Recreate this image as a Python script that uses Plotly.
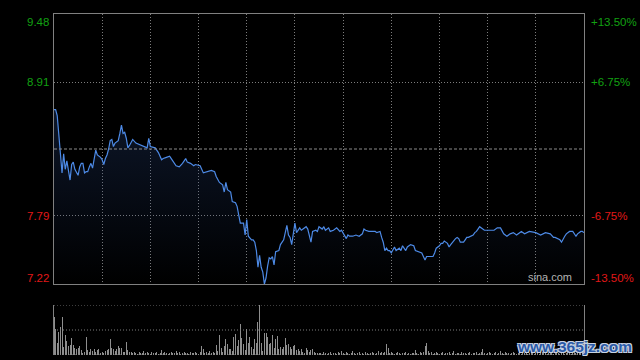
import plotly.graph_objects as go

# ---- data ----
prev_close = 8.35
price_min, price_max = 7.22, 9.48

minutes = [0, 1, 2, 3, 4, 5, 6, 7, 8, 9, 10, 11, 12, 13, 14, 15, 16, 17, 18, 19,
           20, 21, 22, 23, 24, 25, 26, 27, 28, 29, 30, 31, 32, 33, 34, 35, 36, 37, 38, 39,
           40, 41, 42, 43, 44, 45, 46, 47, 49, 51, 53, 55, 58, 59, 60, 63, 65, 67, 68, 70,
           72, 73, 76, 78, 80, 82, 83, 85, 87, 88, 91, 93, 95, 98, 100, 101, 103, 105, 106, 107,
           108, 110, 111, 113, 114, 115, 116, 118, 119, 120, 121, 123, 124, 125, 126, 127, 128, 129, 130, 131,
           132, 133, 134, 135, 136, 137, 138, 140, 141, 143, 144, 145, 146, 147, 148, 149, 150, 151, 153, 154,
           156, 157, 158, 159, 160, 161, 163, 164, 165, 167, 168, 169, 171, 172, 174, 176, 178, 179, 181, 182,
           183, 184, 186, 188, 190, 192, 193, 194, 196, 198, 200, 201, 203, 204, 205, 206, 207, 208, 209, 210,
           211, 212, 213, 214, 215, 216, 217, 219, 220, 222, 224, 225, 227, 228, 229, 230, 231, 232, 234, 236,
           237, 238, 240, 241, 242, 243, 245, 246, 247, 248, 250, 251, 252, 253, 255, 256, 257, 258, 260, 261,
           262, 263, 264, 265, 268, 271, 274, 276, 278, 280, 282, 284, 286, 288, 291, 293, 296, 300, 303, 306,
           309, 311, 312, 315, 316, 318, 319, 321, 323, 325, 326, 328, 329, 330]

prices = [8.68, 8.68, 8.63, 8.45, 8.26, 8.15, 8.31, 8.18, 8.25, 8.17, 8.09, 8.22, 8.24, 8.18, 8.15, 8.13, 8.20, 8.23, 8.23, 8.15,
          8.16, 8.16, 8.20, 8.23, 8.19, 8.27, 8.34, 8.30, 8.29, 8.28, 8.26, 8.22, 8.27, 8.30, 8.35, 8.42, 8.43, 8.37, 8.40, 8.41,
          8.42, 8.48, 8.55, 8.48, 8.49, 8.44, 8.36, 8.38, 8.43, 8.40, 8.39, 8.38, 8.36, 8.44, 8.37, 8.36, 8.32, 8.26, 8.27, 8.28,
          8.29, 8.27, 8.21, 8.20, 8.23, 8.27, 8.24, 8.23, 8.21, 8.22, 8.21, 8.15, 8.16, 8.17, 8.16, 8.12, 8.07, 8.05, 7.99, 8.07,
          8.01, 7.99, 7.91, 7.90, 7.87, 7.79, 7.73, 7.73, 7.63, 7.76, 7.62, 7.59, 7.59, 7.57, 7.50, 7.36, 7.46, 7.36, 7.32, 7.22,
          7.27, 7.37, 7.44, 7.43, 7.45, 7.38, 7.49, 7.50, 7.55, 7.59, 7.65, 7.71, 7.63, 7.61, 7.55, 7.65, 7.73, 7.65, 7.69, 7.67,
          7.69, 7.70, 7.68, 7.62, 7.57, 7.66, 7.67, 7.66, 7.70, 7.68, 7.70, 7.67, 7.69, 7.66, 7.67, 7.69, 7.66, 7.67, 7.62, 7.60,
          7.63, 7.62, 7.62, 7.63, 7.62, 7.64, 7.68, 7.67, 7.66, 7.66, 7.66, 7.65, 7.66, 7.61, 7.57, 7.50, 7.52, 7.50, 7.50, 7.48,
          7.50, 7.53, 7.50, 7.51, 7.52, 7.50, 7.54, 7.50, 7.53, 7.55, 7.54, 7.50, 7.49, 7.49, 7.48, 7.45, 7.42, 7.45, 7.45, 7.45,
          7.48, 7.52, 7.54, 7.56, 7.56, 7.58, 7.56, 7.53, 7.55, 7.57, 7.60, 7.61, 7.60, 7.57, 7.57, 7.59, 7.61, 7.61, 7.62, 7.63,
          7.65, 7.66, 7.68, 7.70, 7.67, 7.67, 7.67, 7.69, 7.69, 7.64, 7.62, 7.64, 7.65, 7.63, 7.66, 7.64, 7.66, 7.65, 7.63, 7.65,
          7.64, 7.61, 7.61, 7.59, 7.57, 7.62, 7.64, 7.66, 7.66, 7.62, 7.64, 7.66, 7.66, 7.65]

volumes = [38, 26, 12, 23, 28, 38, 8, 20, 14, 9,
           10, 17, 10, 7, 6, 7, 9, 5, 2, 3,
           18, 5, 3, 6, 4, 6, 3, 5, 6, 2,
           3, 2, 4, 5, 6, 16, 7, 6, 4, 6,
           9, 7, 7, 3, 3, 13, 5, 3, 3,
           2, 3, 2, 1, 3, 2, 2, 4, 2, 3,
           2, 1, 3, 2, 2, 3, 1, 2, 5, 2,
           3, 2, 1, 2, 3, 2, 2, 4, 2, 3,
           1, 2, 3, 2, 2, 1, 3, 2, 2, 3,
           2, 1, 3,
           9, 6, 2, 3, 2, 4, 2, 3, 2, 10,
           4, 20, 7, 3, 9, 16, 11, 6, 6, 4,
           18, 21, 9, 15, 31, 17, 11, 5, 26, 12,
           18, 8, 6, 16, 12, 33, 50, 12, 4, 22,
           22, 18, 11, 12, 20, 7, 16, 19, 6, 8,
           6, 8, 17, 10, 11, 8, 6, 9, 10, 5,
           6, 4, 6, 3, 2, 7, 5, 3, 5, 6,
           3, 2, 2, 2,
           2, 1, 3, 2, 1, 2, 3, 1, 2, 2,
           1, 3, 2, 4, 2, 1, 3, 2, 1, 2,
           4, 2, 1, 2, 3, 1, 2, 1, 3, 2,
           1, 2, 3, 2, 1, 2, 4, 2, 3, 2,
           3, 11, 7, 2, 3, 2, 1, 2, 3, 2,
           1, 2, 2, 3, 1, 2, 1, 2, 2, 5,
           2, 1, 3, 2, 3, 9, 12, 4, 2, 3,
           1, 2, 3, 2, 1, 2, 3, 1, 2, 2,
           3, 1, 2, 4, 1, 2, 2, 1, 3, 2,
           2, 1, 2, 3, 1, 2, 2, 3, 1, 2,
           3, 6, 2, 1, 2, 3, 2, 1, 2, 3,
           1, 2, 4, 2, 1, 3, 2, 2, 1, 2,
           3, 2, 1, 2, 3, 1, 2, 2, 3, 1,
           2, 3, 2, 1, 2, 3, 1, 2, 3, 2,
           2, 1, 2, 3, 2, 1, 3, 2, 2, 1,
           3, 2, 1, 2, 3, 2, 1, 2, 4, 2,
           3, 2, 2, 3, 4]
volume_minutes = list(range(len(volumes)))

grid_minutes = [30, 60, 90, 120, 150, 180, 210, 240, 270, 300]
grid_prices = [8.91, 7.79]
label_prices = [9.48, 8.91, 7.79, 7.22]
price_labels = ["9.48", "8.91", "7.79", "7.22"]
pct_labels = ["+13.50%", "+6.75%", "-6.75%", "-13.50%"]
label_colors = ["#12a012", "#12a012", "#e01818", "#e01818"]
label_anchor = ["top", "middle", "middle", "bottom"]

# ---- geometry ----
W, H = 640, 360
x0p, x1p = 54 / W, 584 / W
main_dom = [76 / H, 346 / H]
vol_dom = [5 / H, 55 / H]
grid_col = "#7c7c7c"
frame_col = "#808080"
dot = "1px,2px"

fig = go.Figure()
fig.add_trace(go.Scatter(
    x=minutes, y=prices, mode="lines",
    line=dict(color="#4d8ae6", width=1.2),
    fill="tozeroy",
    fillgradient=dict(type="vertical", start=price_min, stop=8.7,
                      colorscale=[[0, "rgba(40,70,130,0.0)"], [1, "rgba(40,70,130,0.32)"]]),
    hoverinfo="skip", xaxis="x", yaxis="y"))

fig.add_trace(go.Bar(
    x=volume_minutes, y=volumes, width=0.62,
    marker=dict(color="#8e8e8e", line=dict(width=0)),
    hoverinfo="skip", xaxis="x2", yaxis="y2"))

axis_common = dict(showticklabels=False, ticks="", zeroline=False)
fig.update_layout(
    width=W, height=H, margin=dict(l=0, r=0, t=0, b=0),
    paper_bgcolor="black", plot_bgcolor="black", showlegend=False,
    bargap=0,
    xaxis=dict(domain=[x0p, x1p], range=[0, 330], tickvals=grid_minutes,
               showgrid=True, gridcolor=grid_col, griddash=dot, gridwidth=1,
               showline=True, mirror=True, linecolor=frame_col, linewidth=1,
               anchor="y", **axis_common),
    yaxis=dict(domain=main_dom, range=[price_min, price_max], tickvals=grid_prices,
               showgrid=True, gridcolor=grid_col, griddash=dot, gridwidth=1,
               showline=True, mirror=True, linecolor=frame_col, linewidth=1,
               anchor="x", **axis_common),
    xaxis2=dict(domain=[x0p, x1p], range=[0, 330], showgrid=False, showline=False,
                anchor="y2", **axis_common),
    yaxis2=dict(domain=vol_dom, range=[0, 50], showgrid=False,
                showline=True, mirror=True, linecolor=frame_col, linewidth=1,
                anchor="x2", **axis_common),
)

shapes = [dict(type="line", xref="paper", x0=x0p, x1=x1p, yref="y", y0=prev_close, y1=prev_close,
               line=dict(color="#8c8c8c", width=1, dash="3px,2px"))]
for v in [0, 25, 50]:
    shapes.append(dict(type="line", xref="paper", x0=x0p, x1=x1p, yref="y2", y0=v, y1=v,
                       line=dict(color=grid_col, width=1, dash=dot)))
fig.update_layout(shapes=shapes)

ann = []
lab_font = "Liberation Sans, Arial, sans-serif"
for p, t, pct, c, a in zip(label_prices, price_labels, pct_labels, label_colors, label_anchor):
    ys = {"top": 0, "middle": 0, "bottom": -2}[a]
    ann.append(dict(xref="paper", yref="y", x=51 / W, y=p, text=t, showarrow=False,
                    xanchor="right", yanchor=a, yshift=ys,
                    font=dict(family=lab_font, size=11.5, color=c)))
    ann.append(dict(xref="paper", yref="y", x=589 / W, y=p, text=pct, showarrow=False,
                    xanchor="left", yanchor=a, yshift=ys,
                    font=dict(family=lab_font, size=11.5, color=c)))
ann.append(dict(xref="paper", yref="y", x=574 / W, y=price_min, text="sina.com", showarrow=False,
                xanchor="right", yanchor="bottom", yshift=-1,
                font=dict(family=lab_font, size=11, color="#b4b4b4")))
ann.append(dict(xref="paper", yref="paper", x=515 / W, y=(H - 346) / H, text="<b>www.365jz.com</b>",
                showarrow=False, xanchor="left", yanchor="middle",
                font=dict(family="Liberation Sans, Arial, sans-serif", size=15.5, color="#2a5aa8",
                          shadow="-1px -1px 0 #c9d3e3, 1px -1px 0 #c9d3e3, -1px 1px 0 #c9d3e3, 1px 1px 0 #c9d3e3")))
fig.update_layout(annotations=ann)

fig.write_html("out.html",
               config={"displayModeBar": False, "staticPlot": True},
               post_script="document.body.style.margin='0';document.body.style.background='black';"
                           "document.body.style.overflow='hidden';")
